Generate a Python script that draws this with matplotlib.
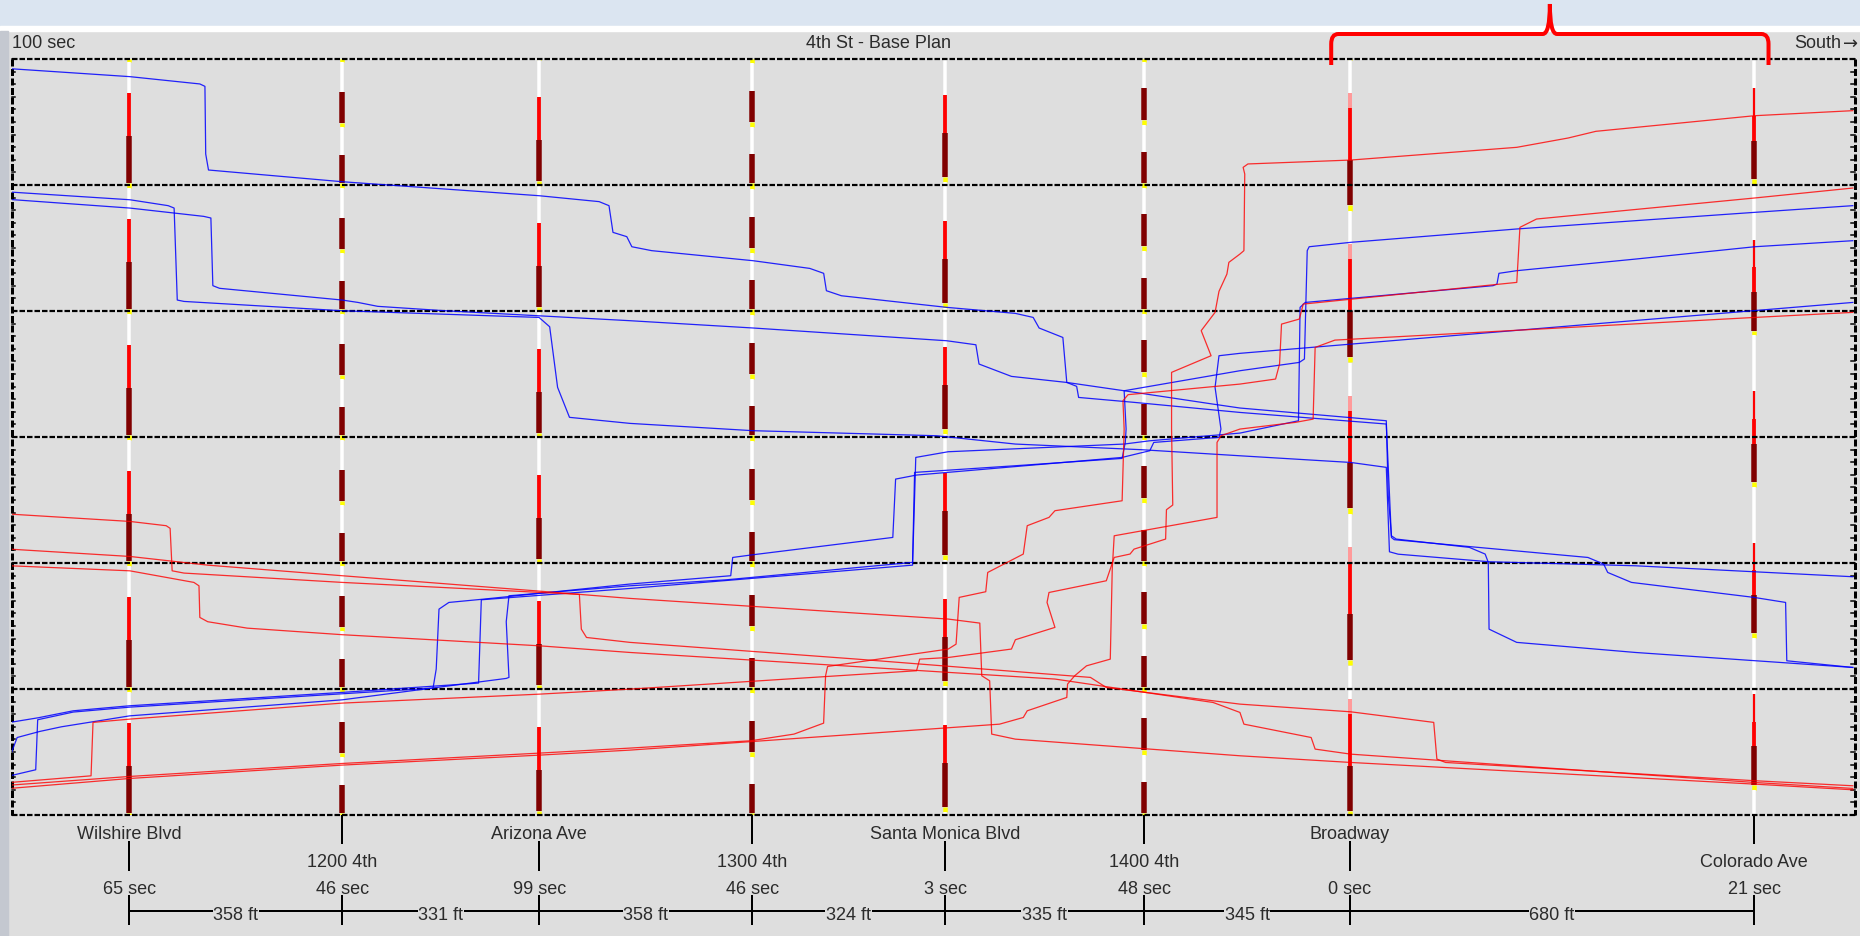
import numpy as np
import matplotlib
matplotlib.use("Agg")
import matplotlib.pyplot as plt
import matplotlib.transforms as mtransforms
from matplotlib.path import Path
from matplotlib.patches import PathPatch, Rectangle

plt.rcParams['font.family'] = ['Liberation Sans', 'DejaVu Sans']
plt.rcParams['lines.scale_dashes'] = False

# ---------------- data ----------------
names = ["Wilshire Blvd", "1200 4th", "Arizona Ave", "1300 4th",
         "Santa Monica Blvd", "1400 4th", "Broadway", "Colorado Ave"]
offsets = ["65 sec", "46 sec", "99 sec", "46 sec", "3 sec", "48 sec", "0 sec", "21 sec"]
link_ft = [358, 331, 358, 324, 335, 345, 680]
cycle_len = [100, 100, 100, 100, 100, 100, 120.2, 120.2]
cycle_origin = [0, 0, 0, 0, 0, 0, 0, -21]

# signal phases within one cycle: (start s, end s, kind)
# G green(white), Y yellow, R red, M red (other), H red (hatched), T red (thin)
ph_wilshire = [(2, 27, 'G'), (27, 61, 'R'), (61, 98.5, 'M'), (98.5, 102, 'Y')]
ph_1200 = [(2.5, 26.5, 'G'), (26.5, 50.8, 'M'), (50.8, 54.2, 'Y'),
           (54.2, 76, 'G'), (76, 98.7, 'M'), (98.7, 102.5, 'Y')]
ph_arizona = [(0.5, 30.5, 'G'), (30.5, 64.5, 'R'), (64.5, 97.2, 'M'), (97.2, 100.5, 'Y')]
ph_1300 = [(3.5, 25.7, 'G'), (25.7, 50.3, 'M'), (50.3, 54, 'Y'),
           (54, 75.4, 'G'), (75.4, 98.7, 'M'), (98.7, 103.5, 'Y')]
ph_santamonica = [(-2.6, 28.6, 'G'), (28.6, 58.5, 'R'), (58.5, 93.5, 'M'), (93.5, 97.4, 'Y')]
ph_1400 = [(2.5, 23.3, 'G'), (23.3, 48.2, 'M'), (48.2, 52.4, 'Y'),
           (52.4, 73.6, 'G'), (73.6, 98.7, 'M'), (98.7, 102.5, 'Y')]
ph_broadway = [(0.8, 27, 'G'), (27, 38.7, 'H'), (38.7, 80, 'R'), (80, 116, 'M'), (116, 120.6, 'Y')]
ph_colorado = [(0, 44.3, 'G'), (44.3, 66, 'T'), (66, 85.8, 'R'), (85.8, 116.3, 'M'), (116.3, 120.2, 'Y')]
phases = [ph_wilshire, ph_1200, ph_arizona, ph_1300, ph_santamonica, ph_1400, ph_broadway, ph_colorado]

# vehicle trajectories: distance (ft from Wilshire) and time (s)
b1_ft = [-200, 0.8, 118.5, 127.1, 128.4, 133.1, 357.7, 688.6, 789.6, 806.2, 812.9, 836.1, 844.6, 877.9,
         1048.6, 1143.7, 1167.0, 1171.6, 1196.8, 1373.6, 1489.2, 1519.1, 1529.1, 1569.0, 1575.6, 1592.2,
         1595.5, 1688.6, 1866.6, 2112.6, 2121.2, 2125.9, 2451.5, 2478.0, 2484.7, 2524.6, 2730.6, 2783.7,
         2785.7, 2896.7]
b1_t = [7.7, 14.0, 19.8, 21.7, 75.4, 88.1, 97.4, 108.5, 113.2, 116.4, 137.6, 141.0, 149.0, 152.1,
        160.1, 166.2, 170.1, 183.9, 187.9, 197.1, 201.9, 205.1, 213.5, 221.0, 256.7, 259.8,
        268.6, 272.5, 280.5, 289.7, 379.7, 381.5, 395.6, 400.9, 407.5, 415.4, 427.3, 431.3,
        477.6, 482.9]

b2_ft = [-200, 0.8, 65.3, 75.3, 80.6, 91.9, 357.7, 688.6, 706.5, 719.8, 739.8, 841.5, 1048.6, 1356.3,
         1489.2, 1701.8, 1866.6, 2052.8, 2112.6, 2117.9, 2132.5, 2285.3, 2531.2, 2896.7]
b2_t = [105.6, 111.7, 116.4, 118.3, 191.3, 192.4, 199.8, 205.1, 212.5, 260.6, 284.4, 289.2, 295.0, 299.0,
        305.6, 310.1, 314.9, 320.2, 324.1, 391.1, 393.0, 399.0, 402.2, 410.9]

b3_ft = [-200, 0.8, 125.1, 137.1, 140.4, 151.7, 357.7, 384.3, 417.5, 530.5, 841.5, 1048.6, 1373.6,
         1422.8, 1428.1, 1482.6, 1575.6, 1672.0, 1821.5, 1866.6, 2112.6, 2115.9, 2121.2, 2129.2,
         2252.1, 2278.7, 2284.0, 2285.3, 2331.8, 2531.2, 2896.7]
b3_t = [111.5, 118.3, 124.9, 126.2, 179.9, 182.0, 191.3, 193.2, 196.3, 199.8, 207.7, 213.5, 223.6,
        226.8, 242.1, 251.9, 256.7, 263.3, 273.9, 277.0, 287.1, 346.6, 378.4, 381.0,
        387.6, 392.9, 399.5, 452.5, 463.0, 471.0, 482.9]

u1_ft = [-200.5, -157.3, -154.0, -94.2, 0.8, 357.7, 510.5, 515.8, 520.5, 537.1, 597.1, 841.4, 1010.8,
         1014.1, 1044.0, 1283.2, 1287.9, 1323.1, 1668.6, 1715.1, 1721.8, 1831.4, 1834.7, 1824.8, 1831.4,
         1866.6, 2896.7]
u1_t = [568.9, 564.1, 524.4, 518.3, 514.4, 503.8, 499.3, 484.2, 436.6, 431.3, 428.6, 416.7, 410.1,
        395.6, 393.7, 379.7, 333.4, 330.2, 316.2, 310.9, 304.3, 300.3, 293.7, 260.6, 235.5,
        233.6, 193.2]

u2_ft = [-200.5, -152.7, -94.2, 0.8, 357.7, 587.0, 591.6, 841.4, 1316.4, 1321.8, 1376.3, 1671.9, 1715.1,
         1866.6, 1965.0, 1967.7, 1976.3, 2292.0, 2298.6, 2301.9, 2331.9, 2531.2, 2731.9, 2896.7]
u2_t = [526.5, 522.8, 517.3, 513.3, 502.7, 495.3, 429.2, 420.2, 401.7, 316.2, 311.7, 305.6, 303.0,
        296.9, 287.1, 197.1, 193.2, 179.9, 178.6, 170.1, 168.0, 158.8, 149.0, 144.2]

u3_ft = [-198, -188.5, -150.7, -114.1, 0.8, 357.7, 633.5, 638.1, 633.5, 638.1, 841.4, 1004.1, 1316.4,
         1319.8, 1489.2, 1668.6, 1673.9, 1675.3, 1672.0, 1866.6, 1966.4, 1975.0, 1979.7, 1983.0, 2052.8,
         2331.9, 2731.9, 2896.7]
u3_t = [550.4, 538.5, 533.7, 530.0, 521.3, 508.6, 491.6, 490.8, 446.6, 426.0, 418.1, 413.3, 399.5,
        328.1, 322.8, 317.0, 304.3, 293.7, 263.3, 247.4, 240.8, 238.1, 152.1, 149.0, 145.5,
        134.9, 121.7, 116.4]

ra_ft = [-200.5, -64.3, -61.0, 0.8, 357.7, 688.6, 841.4, 1323.1, 1328.4, 1376.3, 1482.6, 1489.2, 1555.7,
         1542.4, 1545.7, 1642.0, 1655.3, 1681.9, 1688.6, 1741.7, 1743.1, 1753.7, 1751.7, 1751.7, 1818.1,
         1801.5, 1824.8, 1831.4, 1844.7, 1848.0, 1866.6, 1873.3, 1874.7, 1872.0, 1880.0, 2052.8, 2331.9,
         2418.3, 2464.8, 2731.9, 2896.7]
ra_t = [574.2, 568.9, 526.5, 523.9, 511.2, 504.1, 500.1, 485.5, 476.3, 475.0, 468.3, 460.9, 451.1,
        431.3, 423.4, 414.1, 395.6, 392.9, 389.0, 381.0, 357.7, 354.0, 293.7, 248.7, 235.5,
        215.6, 201.1, 184.4, 170.7, 161.4, 154.8, 152.1, 91.3, 86.0, 83.3, 80.2, 70.1,
        62.7, 57.4, 45.0, 41.0]

rb_ft = [-200.5, 0.8, 357.7, 688.6, 841.4, 1044.0, 1117.1, 1166.9, 1170.2, 1173.6, 1376.3, 1389.5, 1394.8,
         1439.4, 1442.7, 1502.5, 1509.1, 1545.7, 1555.7, 1668.6, 1672.0, 1670.0, 1678.6, 1866.6, 1926.5,
         1933.2, 1936.5, 1966.4, 1973.0, 2331.9, 2337.2, 2365.1, 2731.9, 2896.7]
rb_t = [576.3, 569.4, 559.1, 550.9, 546.9, 541.1, 535.8, 527.1, 489.5, 482.1, 468.3, 464.4, 427.3,
        422.8, 407.5, 392.9, 370.4, 363.8, 358.5, 350.6, 293.7, 271.2, 266.4, 258.0, 254.0,
        242.1, 210.4, 206.4, 194.5, 177.3, 133.6, 127.0, 110.3, 102.4]

rc_ft = [-200.5, 0.8, 357.7, 688.6, 841.4, 1462.6, 1502.5, 1509.1, 1575.6, 1576.9, 1588.9, 1608.8, 1648.7,
         1652.0, 1655.3, 1828.1, 1828.1, 1834.7, 1866.6, 1959.7, 1989.6, 1993.0, 2026.2, 2731.9, 2896.7]
rc_t = [578.9, 571.0, 560.4, 552.5, 548.5, 527.9, 522.6, 517.3, 506.7, 496.1, 489.5, 481.6, 476.3,
        404.8, 378.4, 363.8, 304.3, 299.0, 293.7, 288.4, 285.8, 228.9, 223.1, 205.1, 201.1]

rd1_ft = [-200.5, 0.8, 62.0, 68.6, 72.0, 91.9, 357.7, 688.6, 756.4, 759.7, 768.4, 841.4, 1223.4, 1615.4,
          1642.0, 1866.6, 2052.8, 2192.3, 2197.6, 2212.2, 2731.9, 2896.7]
rd1_t = [361.2, 367.0, 370.4, 372.5, 406.2, 408.0, 415.4, 423.3, 424.9, 452.5, 459.1, 463.0, 476.3, 490.8,
         498.8, 512.0, 518.1, 526.5, 555.6, 558.3, 572.8, 576.8]

rd2_ft = [-200.5, 0.8, 131.8, 357.7, 688.6, 841.4, 1376.3, 1429.4, 1432.7, 1446.0, 1449.4, 1489.2, 1866.6,
          2052.8, 2731.9, 2896.7]
rd2_t = [389.0, 394.8, 401.7, 410.1, 422.3, 428.1, 444.5, 447.7, 489.5, 493.5, 535.8, 539.8, 553.0,
         558.3, 575.5, 580.0]

rd3_ft = [-200.5, 0.8, 108.5, 117.1, 118.5, 131.8, 198.2, 357.7, 688.6, 841.4, 1555.7, 1821.5, 1866.6,
          1873.3, 1986.3, 1993.0, 2052.8, 2731.9, 2896.7]
rd3_t = [402.2, 406.2, 415.4, 418.1, 443.2, 446.6, 451.7, 456.9, 465.7, 471.0, 492.1, 510.7, 518.6,
         527.9, 538.5, 547.7, 551.7, 574.2, 578.9]

blue_tracks = [(b1_ft, b1_t), (b2_ft, b2_t), (b3_ft, b3_t), (u1_ft, u1_t), (u2_ft, u2_t), (u3_ft, u3_t)]
red_tracks = [(ra_ft, ra_t), (rb_ft, rb_t), (rc_ft, rc_t), (rd1_ft, rd1_t), (rd2_ft, rd2_t), (rd3_ft, rd3_t)]

cycle_label = "100 sec"
title = "4th St - Base Plan"
direction = "South"
arrow = "\u2192"
t_max = 600
brace_ft = (2020, 2755)

# ---------------- figure ----------------
W, H = 1860, 937
fig = plt.figure(figsize=(W / 100, H / 100), dpi=100)
fig.patch.set_facecolor('#dedede')

fa = fig.add_axes([0, 0, 1, 1])
fa.set_xlim(0, W)
fa.set_ylim(H, 0)
fa.axis('off')
fa.set_zorder(0)

px_left, px_right, px_top, px_bot = 11.5, 1854.8, 60, 816
ax = fig.add_axes([px_left / W, 1 - px_bot / H, (px_right - px_left) / W, (px_bot - px_top) / H])
ax.set_zorder(1)
ax.patch.set_visible(False)
ax.set_xlim(-198, 2900)
ax.set_ylim(t_max, 0)
ax.axis('off')

PX = 0.72  # points per pixel

# background chrome
fa.add_patch(Rectangle((0, 0), W, 27, color='#dbe5f1', zorder=0))
fa.add_patch(Rectangle((0, 27), W, 5, color='white', zorder=0))
fa.add_patch(Rectangle((0, 32), 8, H - 32, color='#c4c8d0', zorder=0))

x_int = np.concatenate([[0], np.cumsum(link_ft)])

# signal bars
style = {'G': ('white', 3.5), 'Y': ('#ffff00', 4.5), 'R': ('#ff0000', 3.8),
         'M': ('#800000', 5.5), 'H': ('#ff9a9a', 4.0), 'T': ('#ff0000', 2.2)}
for xi, ph, cl, org in zip(x_int, phases, cycle_len, cycle_origin):
    for k in range(-2, 8):
        base = org + k * cl
        for (s, e, kind) in ph:
            a, b = max(base + s, 0), min(base + e, t_max)
            if b <= a:
                continue
            col, wpx = style[kind]
            ax.plot([xi, xi], [a, b], color=col, lw=wpx * PX, solid_capstyle='butt', zorder=2)

# horizontal dashed cycle lines
for tt in range(0, t_max + 1, 100):
    ax.plot([-198, 2900], [tt, tt], color='black', lw=2.2 * PX, dashes=(5.5 * PX, 2 * PX),
            zorder=3, clip_on=False)
# side frames with small ticks
for xe, sgn in [(-198, 1), (2900, -1)]:
    ax.plot([xe, xe], [0, t_max], color='black', lw=3 * PX, dashes=(7 * PX, 2.5 * PX),
            zorder=3, clip_on=False)
    for tt in range(0, t_max + 1, 10):
        ax.plot([xe, xe + sgn * 6], [tt, tt], color='black', lw=1.5 * PX, zorder=3, clip_on=False)

# trajectories
for fx, ft in blue_tracks:
    ax.plot(fx, ft, color='#0000ff', lw=0.9, alpha=0.85, zorder=4, solid_joinstyle='round')
for fx, ft in red_tracks:
    ax.plot(fx, ft, color='#ff0000', lw=0.9, alpha=0.8, zorder=4, solid_joinstyle='round')

# top texts
tc = '#2b2b2b'
fs = 13
fa.text(12, 44, cycle_label, ha='left', va='center', fontsize=fs, color=tc)
fa.text(878, 44, title, ha='center', va='center', fontsize=fs, color=tc)
fa.text(1858, 44, arrow, ha='right', va='center', fontsize=fs, color=tc, family=['DejaVu Sans'])
fa.text(1841, 44, direction, ha='right', va='center', fontsize=fs, color=tc)

# red brace (x in data, y in pixels)
blend = mtransforms.blended_transform_factory(ax.transData, fa.transData)
l, r = brace_ft
m = (l + r) / 2
c = 12
verts = [(l, 66), (l, 45), (l, 35), (l + c, 35),
         (m - c, 35), (m, 35), (m, 5),
         (m, 35), (m + c, 35),
         (r - c, 35), (r, 35), (r, 45), (r, 66)]
codes = [Path.MOVETO, Path.LINETO, Path.CURVE3, Path.CURVE3,
         Path.LINETO, Path.CURVE3, Path.CURVE3,
         Path.CURVE3, Path.CURVE3,
         Path.LINETO, Path.CURVE3, Path.CURVE3, Path.LINETO]
ax.add_patch(PathPatch(Path(verts, codes), facecolor='none', edgecolor='#ff0000', lw=4 * PX,
                       transform=blend, clip_on=False, zorder=10, capstyle='butt'))

# bottom labels
for i, (xi, nm, off) in enumerate(zip(x_int, names, offsets)):
    if i % 2 == 0:
        fa.text(xi, 835, nm, transform=blend, ha='center', va='center', fontsize=fs, color=tc)
        fa.plot([xi, xi], [843, 871], transform=blend, color='black', lw=2 * PX)
    else:
        fa.text(xi, 863, nm, transform=blend, ha='center', va='center', fontsize=fs, color=tc)
        fa.plot([xi, xi], [816, 844], transform=blend, color='black', lw=2 * PX)
    fa.text(xi, 890, off, transform=blend, ha='center', va='center', fontsize=fs, color=tc)
    fa.plot([xi, xi], [897, 925], transform=blend, color='black', lw=2 * PX)

fa.plot([x_int[0], x_int[-1]], [912, 912], transform=blend, color='black', lw=2 * PX)
for a, b, d in zip(x_int[:-1], x_int[1:], link_ft):
    fa.text((a + b) / 2, 916, f"{d} ft", transform=blend, ha='center', va='center', fontsize=fs,
            color=tc, bbox=dict(facecolor='#dedede', edgecolor='none', pad=0.5))

fig.savefig('out.png', dpi=100, facecolor=fig.get_facecolor())
